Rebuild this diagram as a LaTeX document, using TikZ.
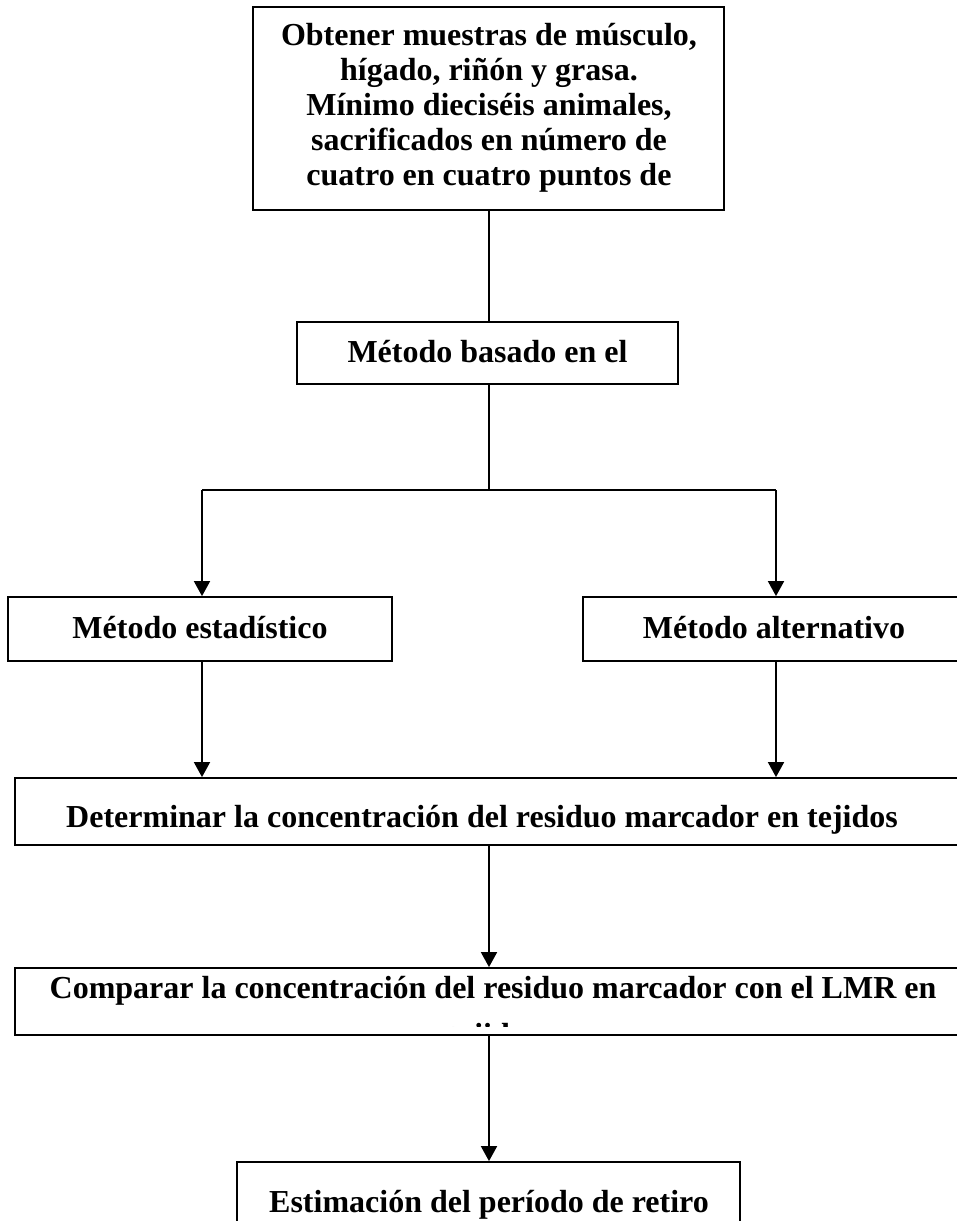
\documentclass[tikz,border=0pt]{standalone}
\usepackage{fontspec}
\setmainfont{Liberation Serif}
\usetikzlibrary{arrows.meta}

\begin{document}
\begin{tikzpicture}[x=1pt,y=-1pt,line width=1.8pt,
        caja/.style={draw, inner sep=0pt},
        texto/.style={inner sep=0pt, anchor=north, align=center,
            font=\fontsize{32}{35}\selectfont\bfseries},
        flecha/.style={-{Triangle[width=16pt,length=15pt]}}]
        \useasboundingbox (0,0) rectangle (957,1221);

        \node[caja, minimum width=471pt, minimum height=203pt] (obt) at (488.5,108.5) {};
        \node[caja, minimum width=381pt, minimum height=62pt] (bas) at (487.5,353) {};
        \node[caja, minimum width=384pt, minimum height=64pt] (est) at (200,629) {};
        \node[caja, minimum width=392pt, minimum height=64pt] (alt) at (779,629) {};
        \node[caja, minimum width=960pt, minimum height=67pt] (det) at (495,811.5) {};
        \node[caja, minimum width=960pt, minimum height=67pt] (cmp) at (495,1001.5) {};
        \node[caja, minimum width=503pt, minimum height=98pt] (ret) at (488.5,1211) {};

        \node[texto] (tobt) at (489,20.5) {\strut Obtener muestras de músculo,\\
            hígado, riñón y grasa.\\ Mínimo dieciséis animales,\\
            sacrificados en número de\\ cuatro en cuatro puntos de};
        \node[texto] (tbas) at (487.5,337.5) {\strut Método basado en el};
        \node[texto] (test) at (200,613.5) {\strut Método estadístico};
        \node[texto] (talt) at (774,613.5) {\strut Método alternativo};
        \node[texto] (tdet) at (482,802.5) {\strut Determinar la concentración del residuo marcador en tejidos};
        \begin{scope}
            \clip (17,970) rectangle (975,1026);
            \node[texto] (tcmp) at (493,973.5) {\strut Comparar la concentración del residuo marcador con el LMR en\\[12pt]
                tejidos};
        \end{scope}
        \node[texto] (tret) at (489,1187.5) {\strut Estimación del período de retiro};

        \coordinate (eje) at (489,490);
        \coordinate (jl) at (202,490);
        \coordinate (jr) at (776,490);

        \draw (obt.south -| eje) -- (bas.north -| eje);
        \draw (bas.south -| eje) -- (eje);
        \draw (jl) -- (jr);
        \draw[flecha] (jl) -- (est.north -| jl);
        \draw[flecha] (jr) -- (alt.north -| jr);
        \draw[flecha] (est.south -| jl) -- (det.north -| jl);
        \draw[flecha] (alt.south -| jr) -- (det.north -| jr);
        \draw[flecha] (det.south -| eje) -- (cmp.north -| eje);
        \draw[flecha] (cmp.south -| eje) -- (ret.north -| eje);
\end{tikzpicture}
\end{document}
